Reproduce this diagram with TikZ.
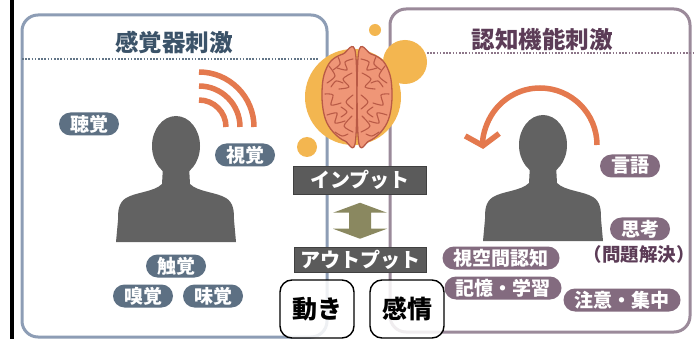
\documentclass[tikz,border=0pt]{standalone}
\usepackage{fontspec}
\newfontfamily\jp{Noto Sans CJK JP}
\usetikzlibrary{arrows.meta,calc}
\newcommand\jpfs[1]{\fontsize{#1}{#1}\selectfont}

\definecolor{panelblue}{HTML}{8D9DB5}
\definecolor{panelpurple}{HTML}{9B8A9A}
\definecolor{titleblue}{HTML}{3B5369}
\definecolor{titlepurple}{HTML}{5C3C57}
\definecolor{pillblue}{HTML}{5D7083}
\definecolor{pillpurple}{HTML}{836B7F}
\definecolor{warmorange}{HTML}{E4794E}
\definecolor{glow}{HTML}{F3B650}
\definecolor{brainfill}{HTML}{EF9677}
\definecolor{brainline}{HTML}{B95A46}
\definecolor{silhouette}{HTML}{626262}
\definecolor{iobox}{HTML}{5B5B5B}
\definecolor{olive}{HTML}{8A8860}

\tikzset{
  panel/.style={line width=3pt, rounded corners=16pt},
  sep/.style={line width=1.8pt, dash pattern=on 1.6pt off 1.6pt},
  paneltitle/.style={font=\jp\bfseries\jpfs{23.5}, inner sep=0pt},
  pill/.style={text=white, rounded corners=11.5pt, minimum height=23pt,
    inner xsep=11pt, inner ysep=0pt, font=\jp\bfseries\jpfs{19}},
  pillL/.style={pill, fill=pillblue},
  pillR/.style={pill, fill=pillpurple},
  person/.style={fill=silhouette},
  wave/.style={draw=warmorange, line width=5.5pt},
  iolabel/.style={fill=iobox, draw=iobox!70!black, text=white, inner sep=0pt,
    font=\jp\bfseries\jpfs{20}},
  outcome/.style={draw=black, line width=1.4pt, fill=white, fill opacity=0.85,
    text opacity=1, rounded corners=12pt, minimum width=74pt, minimum height=58pt,
    font=\jp\bfseries\jpfs{25}},
  gyrus/.style={draw=brainline, line width=1.1pt, line cap=round, line join=round}
}

% person silhouette in local coordinates, origin at the head centre
\newcommand\personshape{%
  \fill[person] (0,0) ellipse[x radius=24, y radius=30];
  \fill[person] (-13,20) -- (-14,38) .. controls (-22,46) and (-40,46) .. (-50,52)
  .. controls (-58,57) and (-58,66) .. (-58,74) -- (-60,96) -- (60,96) -- (58,74)
  .. controls (58,66) and (58,57) .. (50,52)
  .. controls (40,46) and (22,46) .. (14,38) -- (13,20) -- cycle;}

% one hemisphere of the brain, with its folds
\newcommand\hemisphere{%
  \filldraw[fill=brainfill, draw=brainline, line width=1.3pt]
    plot[smooth cycle, tension=0.6] coordinates {(-1.5,-44) (-14,-43) (-26,-36)
      (-33,-22) (-35,-5) (-34,12) (-30,26) (-22,37) (-12,44) (-1.5,44)};
  \draw[gyrus] plot[smooth] coordinates {(-4,-38) (-12,-35) (-10,-27) (-20,-29)};
  \draw[gyrus] plot[smooth] coordinates {(-28,-31) (-22,-21) (-30,-14)};
  \draw[gyrus] plot[smooth] coordinates {(-5,-24) (-14,-18) (-8,-10) (-18,-8)};
  \draw[gyrus] plot[smooth] coordinates {(-32,-3) (-24,-2) (-26,8) (-16,6)};
  \draw[gyrus] plot[smooth] coordinates {(-4,-2) (-11,5) (-4,12)};
  \draw[gyrus] plot[smooth] coordinates {(-30,18) (-20,16) (-22,26) (-12,24)};
  \draw[gyrus] plot[smooth] coordinates {(-5,19) (-13,29) (-4,35)};
  \draw[gyrus] plot[smooth] coordinates {(-22,35) (-15,39) (-9,37)};
  \draw[gyrus] plot[smooth] coordinates {(-19,-40) (-17,-33) (-24,-27)};
  \draw[gyrus] plot[smooth] coordinates {(-14,-14) (-21,-16) (-26,-10)};
  \draw[gyrus] plot[smooth] coordinates {(-16,10) (-10,15) (-16,20)};}

\begin{document}
\begin{tikzpicture}[x=1pt, y=-1pt]
\useasboundingbox (0,0) rectangle (696,339);
\fill[white] (0,0) rectangle (696,339);
\fill[black] (10,0) rectangle (14,339);

% the two panels and their header rules
\draw[panel, draw=panelblue] (22,15) rectangle (327,337);
\draw[panel, draw=panelpurple] (390,9) rectangle (690,332);
\draw[sep, draw=titleblue!80] (22,59) -- (318,59);
\draw[sep, draw=titlepurple!70] (427,53) -- (696,53);

\node[paneltitle, text=titleblue] (tleft) at (174,43) {感覚器刺激};
\node[paneltitle, text=titlepurple] (tright) at (542,40) {認知機能刺激};

% brain on its orange discs
\fill[glow] (353,97) circle[radius=48];
\fill[glow] (405,62) circle[radius=22];
\fill[glow] (375,30) circle[radius=6];
\fill[glow] (307,147) circle[radius=10];
\begin{scope}[shift={(357,97)}]
  \hemisphere
  \begin{scope}[xscale=-1]
    \hemisphere
  \end{scope}
\end{scope}

% sensory side
\draw[wave] (199,100) arc[start angle=-90, end angle=0, radius=27];
\draw[wave] (199,86) arc[start angle=-90, end angle=0, radius=41];
\draw[wave] (199,72) arc[start angle=-90, end angle=0, radius=55];
\begin{scope}[shift={(176,146)}]
  \personshape
\end{scope}
\node[pillL] (hear) at (89,124) {聴覚};
\node[pillL] (see) at (245,155) {視覚};
\node[pillL] (touch) at (176,266) {触覚};
\node[pillL] (smell) at (143,296) {嗅覚};
\node[pillL] (taste) at (213,296) {味覚};

% cognitive side
\draw[warmorange, line width=5.5pt, -{Straight Barb[length=11pt, width=34pt]}]
  (597,145) arc[start angle=0, end angle=-184, radius=57];
\begin{scope}[shift={(543,145)}]
  \personshape
\end{scope}
\node[pillR] (lang) at (630,166) {言語};
\node[pillR] (think) at (640,229) {思考};
\node[font=\jp\bfseries\jpfs{18.5}, text=titlepurple, inner sep=0pt] (solve) at (639,254) {（問題解決）};
\node[pillR] (space) at (501,258) {視空間認知};
\node[pillR] (memory) at (503,288) {記憶・学習};
\node[pillR] (attn) at (622,300) {注意・集中};

% input / output in the middle, joined by a two-headed block arrow
\node[iolabel, minimum width=133pt, minimum height=28pt] (in) at (360,180) {インプット};
\node[iolabel, minimum width=132pt, minimum height=25pt] (out) at (360,260) {アウトプット};
\coordinate (io) at ($(in.south)!0.5!(out.north)$);
\fill[olive] (io) ++(0,-18) -- ++(27,10) -- ++(-16,0) -- ++(0,16) -- ++(16,0)
  -- ++(-27,10) -- ++(-27,-10) -- ++(16,0) -- ++(0,-16) -- ++(-16,0) -- cycle;
\node[outcome] (move) at (317,309) {動き};
\node[outcome] (feel) at (407,309) {感情};
\end{tikzpicture}
\end{document}
